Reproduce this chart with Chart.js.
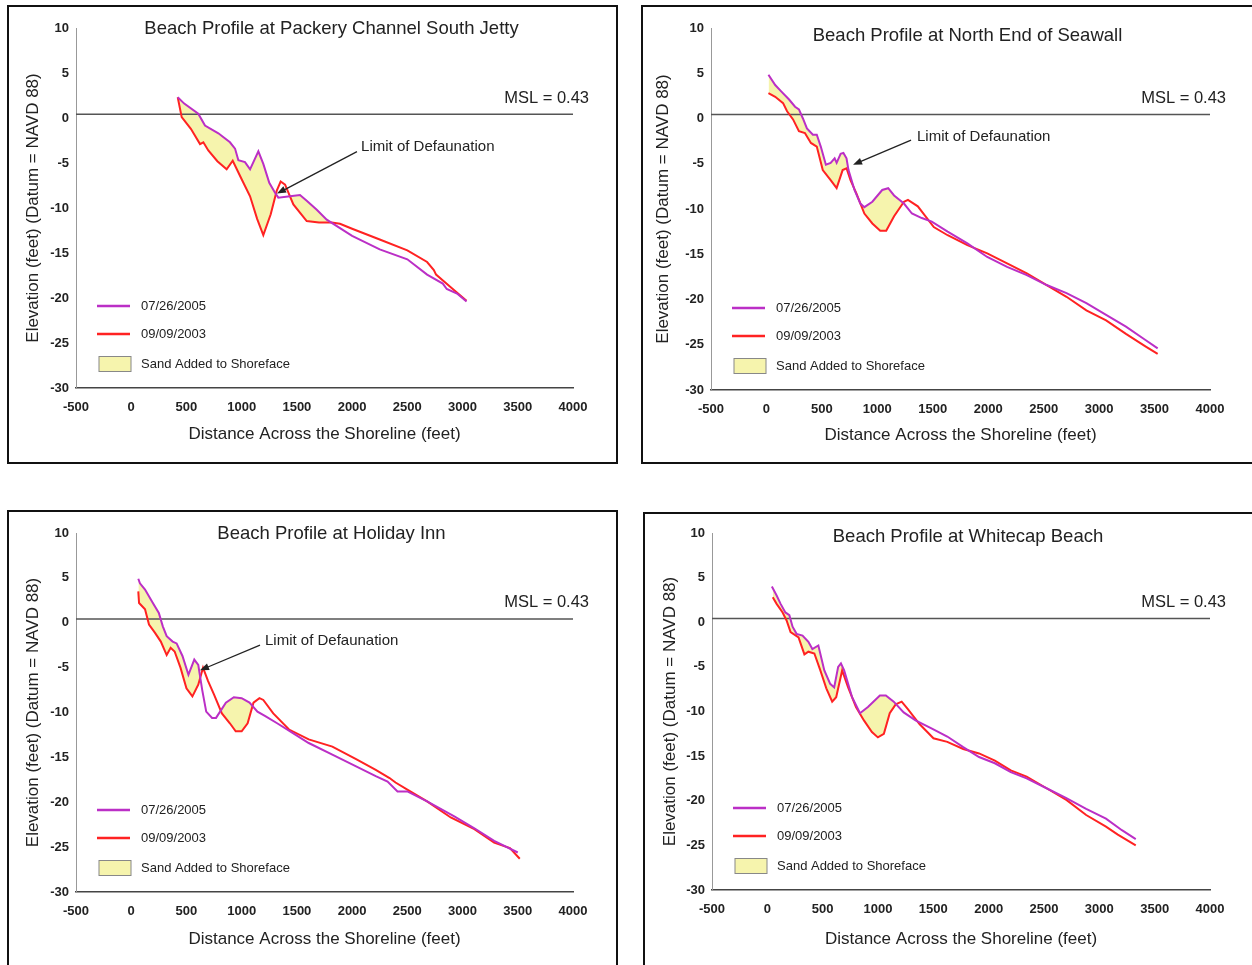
<!DOCTYPE html>
<html>
<head>
<meta charset="utf-8">
<script src="https://cdn.jsdelivr.net/npm/chart.js@4.4.1/dist/chart.umd.min.js"></script>
<style>
  body { margin: 0; background: #fff; width: 1252px; height: 965px; overflow: hidden; position: relative; }
  .panel { position: absolute; border: 2px solid #111; box-sizing: border-box; background: #fff; overflow: hidden; }
  .panel canvas { position: absolute; left: 0; top: 0; }
</style>
</head>
<body>
<div class="panel" id="p1"><canvas id="c1"></canvas></div>
<div class="panel" id="p2"><canvas id="c2"></canvas></div>
<div class="panel" id="p3"><canvas id="c3"></canvas></div>
<div class="panel" id="p4"><canvas id="c4"></canvas></div>
<script>
// ticks y textos
const xTickValues = [-500, 0, 500, 1000, 1500, 2000, 2500, 3000, 3500, 4000];
const yTickValues = [10, 5, 0, -5, -10, -15, -20, -25, -30];
const seriesNames = ["07/26/2005", "09/09/2003"];
const fillName = "Sand Added to Shoreface";
const MSL = 0.43;
const mslLabel = "MSL = 0.43";
const arrowLabel = "Limit of Defaunation";
const titles = [
  "Beach Profile at Packery Channel South Jetty",
  "Beach Profile at North End of Seawall",
  "Beach Profile at Holiday Inn",
  "Beach Profile at Whitecap Beach",
];
// hasta donde llega la arena agregada (pies)
const sandLimits = [2010, 1300, 1200, 1250];

// Packery Channel South Jetty
const jettyX2005 = [421, 480, 607, 668, 789, 894, 940, 970, 1030, 1076, 1151, 1196, 1250, 1302, 1332, 1438, 1528, 1589, 1680, 1770, 2000, 2250, 2500, 2679, 2821, 2857, 2950, 3036];
const jettyY2005 = [2.3, 1.6, 0.47, -0.84, -1.7, -2.7, -3.4, -4.7, -4.9, -5.7, -3.7, -5.1, -7.2, -8.3, -8.85, -8.7, -8.55, -9.2, -10.2, -11.3, -13.1, -14.6, -15.7, -17.4, -18.4, -19.0, -19.5, -20.4];
const jettyX2003 = [421, 457, 540, 623, 653, 698, 780, 864, 919, 1000, 1076, 1140, 1196, 1263, 1317, 1353, 1393, 1468, 1589, 1700, 1815, 1890, 2000, 2250, 2500, 2679, 2740, 2760, 2893, 3036];
const jettyY2003 = [2.3, 0.1, -1.2, -2.9, -2.7, -3.6, -4.8, -5.7, -4.75, -6.8, -8.7, -11.2, -13.0, -10.7, -8.1, -7.06, -7.4, -9.6, -11.45, -11.6, -11.6, -11.75, -12.3, -13.5, -14.7, -16.0, -16.9, -17.4, -18.8, -20.3];

// North End of Seawall
const seawallX2005 = [18, 79, 133, 204, 258, 293, 329, 365, 419, 454, 490, 536, 579, 615, 633, 669, 694, 722, 740, 794, 847, 883, 955, 1044, 1098, 1151, 1240, 1312, 1401, 1491, 1634, 1812, 1991, 2170, 2348, 2527, 2706, 2885, 3063, 3242, 3421, 3528];
const seawallY2005 = [4.83, 3.7, 3.0, 2.1, 1.3, 1.0, 0.0, -1.1, -1.8, -1.8, -3.1, -5.1, -4.9, -4.4, -4.9, -3.9, -3.8, -4.4, -5.7, -7.9, -9.4, -9.8, -9.2, -7.9, -7.7, -8.5, -9.4, -10.5, -11.0, -11.4, -12.5, -13.8, -15.3, -16.4, -17.3, -18.4, -19.3, -20.4, -21.7, -23.0, -24.5, -25.4];
const seawallX2003 = [18, 79, 150, 186, 240, 293, 347, 401, 454, 508, 579, 633, 687, 722, 758, 812, 883, 955, 1026, 1080, 1151, 1240, 1276, 1365, 1509, 1634, 1812, 1991, 2170, 2348, 2527, 2706, 2885, 3063, 3242, 3421, 3528];
const seawallY2003 = [2.8, 2.4, 1.7, 0.8, -0.1, -1.4, -1.6, -2.7, -3.1, -5.7, -6.8, -7.7, -5.7, -5.5, -6.8, -8.3, -10.5, -11.6, -12.4, -12.4, -10.8, -9.2, -9.0, -9.7, -12.0, -12.9, -14.0, -14.9, -16.0, -17.1, -18.4, -19.7, -21.2, -22.3, -23.8, -25.2, -26.0];

// Holiday Inn
const holidayX2005 = [64, 79, 125, 196, 250, 286, 321, 375, 411, 464, 518, 571, 607, 643, 679, 732, 768, 857, 929, 1000, 1071, 1143, 1214, 1321, 1464, 1607, 1821, 2036, 2214, 2321, 2411, 2500, 2679, 2929, 3107, 3286, 3500];
const holidayY2005 = [4.9, 4.4, 3.7, 2.2, 1.1, -0.4, -1.5, -2.1, -2.3, -3.7, -5.8, -4.1, -4.7, -7.5, -9.9, -10.6, -10.6, -8.9, -8.3, -8.4, -8.9, -9.9, -10.4, -11.2, -12.3, -13.4, -14.7, -16.0, -17.1, -17.7, -18.8, -18.8, -19.9, -21.6, -22.9, -24.3, -25.6];
const holidayX2003 = [64, 71, 125, 161, 214, 268, 321, 357, 393, 446, 500, 554, 607, 650, 696, 750, 821, 893, 946, 1000, 1054, 1107, 1161, 1196, 1286, 1429, 1607, 1821, 2036, 2214, 2339, 2393, 2500, 2679, 2893, 3107, 3286, 3429, 3518];
const holidayY2003 = [3.5, 2.2, 1.5, -0.2, -1.1, -2.1, -3.6, -2.8, -3.2, -5.0, -7.3, -8.2, -6.9, -5.0, -6.5, -8.0, -10.1, -11.2, -12.1, -12.1, -11.2, -8.9, -8.4, -8.6, -10.1, -11.9, -13.0, -13.8, -15.2, -16.4, -17.3, -17.8, -18.6, -19.9, -21.7, -23.0, -24.5, -25.1, -26.3];

// Whitecap Beach
const whitecapX2005 = [41, 84, 120, 163, 199, 228, 264, 318, 371, 407, 461, 515, 568, 604, 640, 665, 694, 766, 837, 909, 1017, 1071, 1142, 1232, 1339, 1483, 1626, 1770, 1913, 2056, 2200, 2343, 2523, 2702, 2881, 3060, 3204, 3329];
const whitecapY2005 = [4.0, 3.0, 2.06, 1.1, 0.8, -0.5, -1.3, -1.5, -2.2, -3.0, -2.6, -5.4, -6.9, -7.3, -5.0, -4.6, -5.4, -8.4, -10.2, -9.5, -8.2, -8.2, -8.9, -10.1, -11.0, -11.9, -12.8, -14.0, -15.1, -15.8, -16.8, -17.5, -18.6, -19.7, -20.9, -22.0, -23.3, -24.3];
const whitecapX2003 = [49, 84, 138, 174, 210, 282, 335, 371, 425, 479, 533, 586, 622, 676, 730, 801, 873, 945, 999, 1053, 1106, 1160, 1214, 1268, 1375, 1501, 1626, 1770, 1913, 2056, 2200, 2343, 2523, 2702, 2881, 3060, 3167, 3329];
const whitecapY2003 = [2.8, 2.06, 1.1, 0.2, -1.1, -1.7, -3.6, -3.3, -3.5, -5.4, -7.4, -8.9, -8.4, -5.4, -7.3, -9.5, -11.0, -12.3, -12.9, -12.5, -10.2, -9.2, -8.9, -9.7, -11.4, -13.0, -13.4, -14.2, -14.7, -15.5, -16.6, -17.3, -18.6, -19.9, -21.6, -22.9, -23.8, -25.0];

// flecha "Limit of Defaunation": [textoX, textoY, colaX, colaY, puntaX, puntaY] en unidades del grafico
const arrowJetty = [2081, -3.2, 2044, -3.74, 1320, -8.4];
const arrowSeawall = [1358, -2.0, 1304, -2.4, 781, -5.1];
const arrowHoliday = [1211, -2.0, 1166, -2.5, 623, -5.3];

const COLOR_2005 = "#bb2fc6";
const COLOR_2003 = "#ff2222";
const COLOR_ARENA = "#f6f4ad";
const FUENTE = "Arial, 'Liberation Sans', sans-serif";

const toPoints = (xs, ys) => xs.map((x, i) => ({ x: x, y: ys[i] }));

// posiciones en la pagina: caja, area del grafico, titulos
const PANELES = [
  { box: [7, 5, 611, 459], area: [76, 28, 573, 388], yTitleX: 33, xTitleY: 435, titleDy: 1,
    d2005: toPoints(jettyX2005, jettyY2005), d2003: toPoints(jettyX2003, jettyY2003), arrow: arrowJetty },
  { box: [641, 5, 613, 459], area: [711, 28, 1210, 390], yTitleX: 663, xTitleY: 436, titleDy: 8,
    d2005: toPoints(seawallX2005, seawallY2005), d2003: toPoints(seawallX2003, seawallY2003), arrow: arrowSeawall },
  { box: [7, 510, 611, 475], area: [76, 533, 573, 892], yTitleX: 33, xTitleY: 940, titleDy: 1,
    d2005: toPoints(holidayX2005, holidayY2005), d2003: toPoints(holidayX2003, holidayY2003), arrow: arrowHoliday },
  { box: [643, 512, 611, 475], area: [712, 533, 1210, 890], yTitleX: 670, xTitleY: 940, titleDy: 4,
    d2005: toPoints(whitecapX2005, whitecapY2005), d2003: toPoints(whitecapX2003, whitecapY2003), arrow: null },
];

// dibuja titulo, MSL, leyenda y flecha
const decorado = {
  id: "decorado",
  afterDraw(chart, args, opts) {
    const { ctx, chartArea: a, scales } = chart;
    const sx = scales.x, sy = scales.y;
    ctx.save();
    ctx.fillStyle = "#222";
    ctx.textBaseline = "middle";

    ctx.font = "18.5px " + FUENTE;
    ctx.textAlign = "center";
    ctx.fillText(opts.title, (a.left + a.right) / 2 + 7, a.top + opts.titleDy);

    ctx.font = "16.5px " + FUENTE;
    ctx.textAlign = "right";
    ctx.fillText(mslLabel, a.right + 16, sy.getPixelForValue(MSL) - 16);

    // leyenda
    ctx.font = "13px " + FUENTE;
    ctx.textAlign = "left";
    ctx.lineWidth = 2.5;
    const filas = [a.bottom - 82, a.bottom - 54, a.bottom - 24];
    ctx.strokeStyle = COLOR_2005;
    ctx.beginPath(); ctx.moveTo(a.left + 21, filas[0]); ctx.lineTo(a.left + 54, filas[0]); ctx.stroke();
    ctx.strokeStyle = COLOR_2003;
    ctx.beginPath(); ctx.moveTo(a.left + 21, filas[1]); ctx.lineTo(a.left + 54, filas[1]); ctx.stroke();
    ctx.fillStyle = COLOR_ARENA;
    ctx.fillRect(a.left + 23, filas[2] - 7.5, 32, 15);
    ctx.strokeStyle = "#888";
    ctx.lineWidth = 1;
    ctx.strokeRect(a.left + 23, filas[2] - 7.5, 32, 15);
    ctx.fillStyle = "#222";
    ctx.fillText(seriesNames[0], a.left + 65, filas[0]);
    ctx.fillText(seriesNames[1], a.left + 65, filas[1]);
    ctx.fillText(fillName, a.left + 65, filas[2]);

    if (opts.arrow) {
      const [tx, ty, x0, y0, x1, y1] = opts.arrow;
      ctx.font = "15px " + FUENTE;
      ctx.fillText(arrowLabel, sx.getPixelForValue(tx), sy.getPixelForValue(ty));
      const px0 = sx.getPixelForValue(x0), py0 = sy.getPixelForValue(y0);
      const px1 = sx.getPixelForValue(x1), py1 = sy.getPixelForValue(y1);
      const ang = Math.atan2(py1 - py0, px1 - px0);
      ctx.strokeStyle = "#222";
      ctx.lineWidth = 1.3;
      ctx.beginPath();
      ctx.moveTo(px0, py0);
      ctx.lineTo(px1 - 6 * Math.cos(ang), py1 - 6 * Math.sin(ang));
      ctx.stroke();
      ctx.beginPath();
      ctx.moveTo(px1, py1);
      ctx.lineTo(px1 - 9 * Math.cos(ang) + 3.5 * Math.sin(ang), py1 - 9 * Math.sin(ang) - 3.5 * Math.cos(ang));
      ctx.lineTo(px1 - 9 * Math.cos(ang) - 3.5 * Math.sin(ang), py1 - 9 * Math.sin(ang) + 3.5 * Math.cos(ang));
      ctx.closePath();
      ctx.fill();
    }
    ctx.restore();
  },
};

const crearGrafica = (p, i) => {
  const div = document.getElementById("p" + (i + 1));
  const [bx, by, bw, bh] = p.box;
  div.style.left = bx + "px"; div.style.top = by + "px";
  div.style.width = bw + "px"; div.style.height = bh + "px";
  const canvas = document.getElementById("c" + (i + 1));
  const cw = bw - 4, ch = bh - 4;
  canvas.width = cw; canvas.height = ch;
  canvas.style.width = cw + "px"; canvas.style.height = ch + "px";
  const ox = bx + 2, oy = by + 2;
  const cl = p.area[0] - ox, ct = p.area[1] - oy, cr = p.area[2] - ox, cb = p.area[3] - oy;
  const L = 6, B = 6;
  const anchoY = cl - L;
  const altoX = ch - B - cb;
  const padYTitle = (p.yTitleX - ox) - L - 10;
  const padXTitle = ch - B - (p.xTitleY - oy) - 10;
  const arena = p.d2005.filter((pt) => pt.x <= sandLimits[i]);

  new Chart(canvas, {
    type: "line",
    data: {
      datasets: [
        {
          label: seriesNames[0],
          data: p.d2005,
          borderColor: COLOR_2005,
          borderWidth: 2,
          pointRadius: 0,
          tension: 0,
          fill: false,
        },
        {
          label: seriesNames[1],
          data: p.d2003,
          borderColor: COLOR_2003,
          borderWidth: 2,
          pointRadius: 0,
          tension: 0,
          fill: false,
        },
        {
          label: "MSL",
          data: [{ x: -500, y: MSL }, { x: 4000, y: MSL }],
          borderColor: "#555",
          borderWidth: 1.5,
          pointRadius: 0,
          fill: false,
        },
        {
          label: fillName,
          data: arena,
          borderWidth: 0,
          borderColor: "rgba(0,0,0,0)",
          pointRadius: 0,
          tension: 0,
          fill: { target: 1, above: COLOR_ARENA, below: "rgba(0,0,0,0)" },
        },
      ],
    },
    options: {
      responsive: false,
      animation: false,
      devicePixelRatio: 1,
      layout: { padding: { left: L, top: ct, right: cw - cr, bottom: B } },
      scales: {
        x: {
          type: "linear",
          min: -500,
          max: 4000,
          afterBuildTicks: (s) => { s.ticks = xTickValues.map((v) => ({ value: v })); },
          afterFit: (s) => { s.height = altoX; },
          grid: { display: false, drawTicks: false },
          border: { display: true, color: "#444", width: 1.5 },
          ticks: { padding: 12, maxRotation: 0, autoSkip: false, color: "#222", callback: (v) => String(v), font: { family: FUENTE, size: 13, weight: "bold" } },
          title: { display: true, text: "Distance Across the Shoreline (feet)", color: "#222", font: { family: FUENTE, size: 17 }, padding: { top: 0, bottom: padXTitle } },
        },
        y: {
          min: -30,
          max: 10,
          afterBuildTicks: (s) => { s.ticks = yTickValues.map((v) => ({ value: v })); },
          afterFit: (s) => { s.width = anchoY; },
          grid: { display: false, drawTicks: false },
          border: { display: true, color: "#999", width: 1 },
          ticks: { padding: 7, color: "#222", callback: (v) => String(v), font: { family: FUENTE, size: 13, weight: "bold" } },
          title: { display: true, text: "Elevation (feet) (Datum = NAVD 88)", color: "#222", font: { family: FUENTE, size: 17 }, padding: { top: padYTitle, bottom: 0 } },
        },
      },
      plugins: {
        legend: { display: false },
        tooltip: { enabled: false },
        filler: { drawTime: "beforeDatasetsDraw" },
        decorado: { title: titles[i], titleDy: p.titleDy, arrow: p.arrow },
      },
    },
    plugins: [decorado],
  });
};

PANELES.forEach(crearGrafica);
</script>
</body>
</html>
